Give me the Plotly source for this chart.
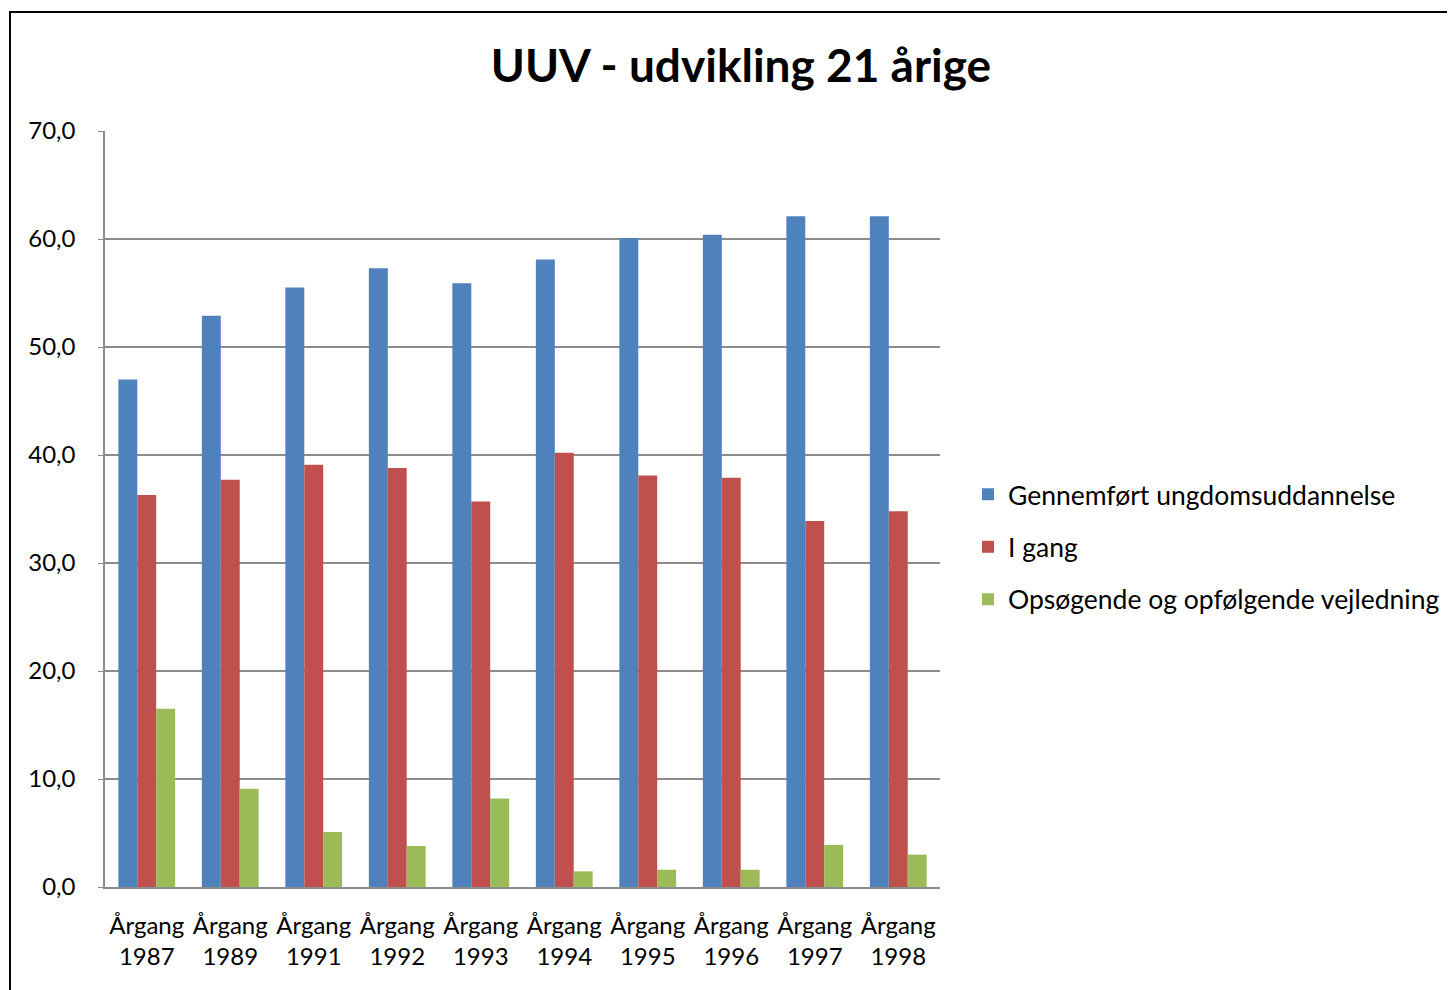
import plotly.graph_objects as go

categories = ["Årgang<br>1987", "Årgang<br>1989", "Årgang<br>1991", "Årgang<br>1992", "Årgang<br>1993",
              "Årgang<br>1994", "Årgang<br>1995", "Årgang<br>1996", "Årgang<br>1997", "Årgang<br>1998"]
gennemfoert = [47.0, 52.9, 55.5, 57.3, 55.9, 58.1, 60.1, 60.4, 62.1, 62.1]
i_gang = [36.3, 37.7, 39.1, 38.8, 35.7, 40.2, 38.1, 37.9, 33.9, 34.8]
uuv = [16.5, 9.1, 5.1, 3.8, 8.2, 1.45, 1.6, 1.6, 3.9, 3.0]

series_names = ["Gennemført ungdomsuddannelse", "I gang", "Opsøgende og opfølgende vejledning"]
series_values = [gennemfoert, i_gang, uuv]
colors = ["#4F81BD", "#C0504D", "#9BBB59"]

FONT = "Lato"
fig = go.Figure()
for i, (name, vals, col) in enumerate(zip(series_names, series_values, colors)):
    fig.add_trace(go.Bar(x=categories, y=vals, name=name, marker_color=col,
                         marker_line_width=0, legendgroup=f"g{i}"))

W, H = 1455, 990
OFF = 8  # page body margin
L, R, T, B = 105 - OFF, 940 - OFF, 131 - OFF, 887 - OFF
pw, ph = R - L, B - T


def px_x(x):
    return (x - OFF - L) / pw


def px_y(y):
    return (B - (y - OFF)) / ph


fig.update_layout(
    width=W, height=H,
    margin=dict(l=L, r=W - R, t=T, b=H - B),
    paper_bgcolor="white", plot_bgcolor="white",
    separators=",.",
    barmode="group", bargap=0.32, bargroupgap=0,
    title=dict(text="<b>UUV - udvikling 21 årige</b>", xref="container",
               x=(741 - OFF) / W, xanchor="center",
               y=1 - (66 - OFF) / H, yanchor="middle",
               font=dict(family=FONT, size=46, color="black")),
    legend=dict(x=px_x(968), xanchor="left", y=px_y(547), yanchor="middle",
                font=dict(family=FONT, size=26.5, color="black"),
                tracegroupgap=15, itemwidth=30, bgcolor="rgba(0,0,0,0)"),
    font=dict(family=FONT, color="black"),
    showlegend=True,
)
fig.update_yaxes(range=[0, 70], dtick=10, tickformat=".1f",
                 showgrid=True, gridcolor="#8C8C8C", gridwidth=1.5,
                 showline=True, linecolor="#8C8C8C", linewidth=1.5,
                 ticks="outside", ticklen=5, tickcolor="#8C8C8C",
                 tickfont=dict(family=FONT, size=24, color="black"),
                 ticklabelstandoff=18, zeroline=False)
fig.update_xaxes(showline=True, linecolor="#8C8C8C", linewidth=1.5,
                 ticks="", tickfont=dict(family=FONT, size=24, color="black"),
                 ticklabelstandoff=16, tickangle=0)

# outer chart frame
fig.add_shape(type="rect", xref="paper", yref="paper",
              x0=px_x(10), x1=px_x(1480), y0=px_y(1010), y1=px_y(12),
              line=dict(color="black", width=2), fillcolor="rgba(0,0,0,0)", layer="below")

fig.write_html("out.html")
